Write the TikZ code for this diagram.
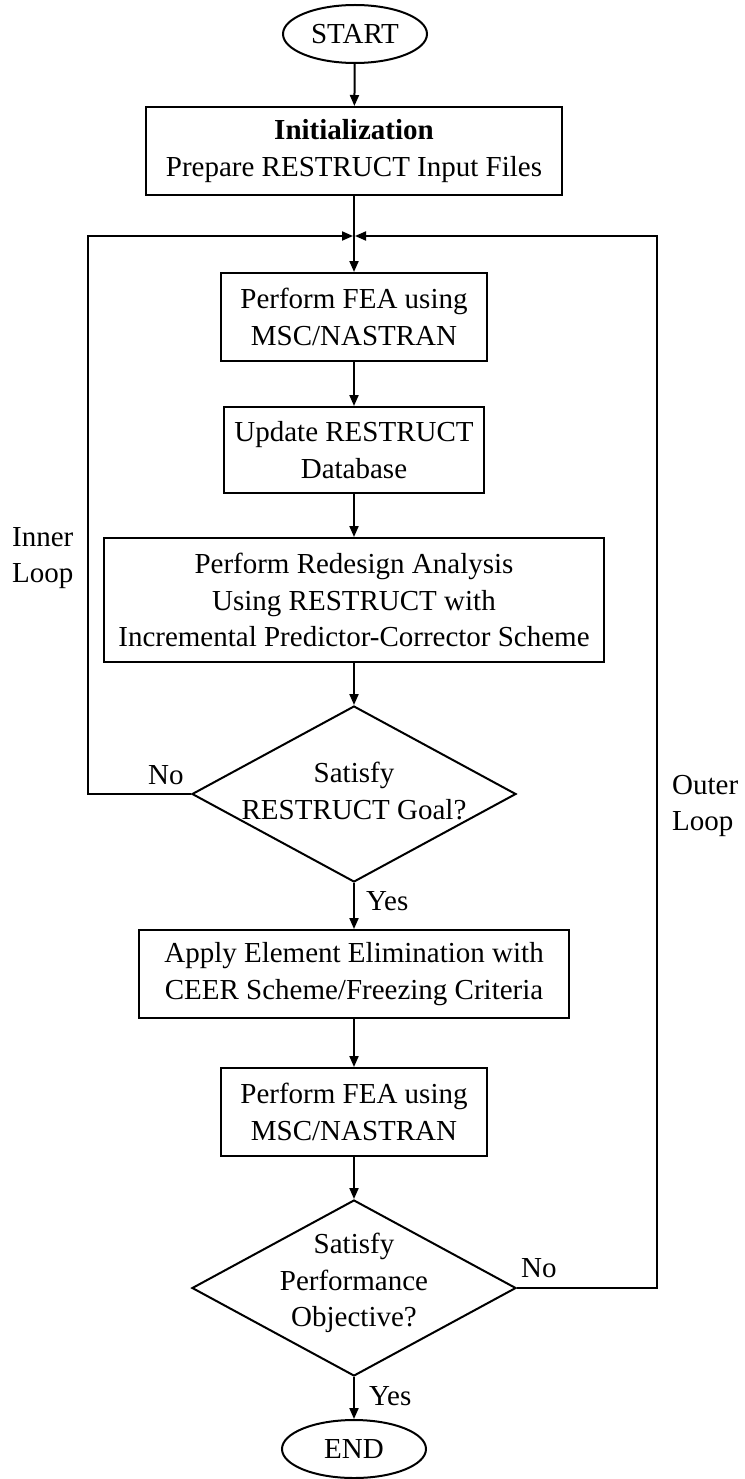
\documentclass[tikz,border=0pt]{standalone}
\usepackage{fontspec}
\setmainfont{Liberation Serif}
\usetikzlibrary{arrows.meta,shapes.geometric}

\begin{document}
\begin{tikzpicture}[x=1pt,y=-1pt,
  every node/.style={font=\fontsize{29}{36.5}\selectfont, inner sep=0pt},
  line/.style={line width=2pt},
  arr/.style={line width=2pt, -{Triangle[length=11pt,width=9pt]}},
  procbox/.style={draw, line width=2pt, rectangle, align=center, minimum height=88pt},
  terminal/.style={draw, line width=2pt, ellipse, minimum width=144pt, minimum height=58pt},
  decision/.style={draw, line width=2pt, diamond, minimum width=324pt, minimum height=176pt},
  dtext/.style={align=center},
  lbl/.style={anchor=west}
]
\useasboundingbox (0,0) rectangle (744,1479);

% terminals
\node[terminal] (start) at (355,34) {START};
\node[terminal] (finish) at (354,1449) {END};

% process steps
\node[procbox, minimum width=416pt] (init) at (354,151)
  {\textbf{Initialization}\\Prepare RESTRUCT Input Files};
\node[procbox, minimum width=266pt] (fea1) at (354,317)
  {Perform FEA using\\MSC/NASTRAN};
\node[procbox, minimum width=260pt, minimum height=86pt] (upd) at (354,450)
  {Update RESTRUCT\\Database};
\node[procbox, minimum width=500pt, minimum height=124pt] (redes) at (354,600)
  {Perform Redesign Analysis\\Using RESTRUCT with\\Incremental Predictor-Corrector Scheme};
\node[procbox, minimum width=430pt] (elim) at (354,974)
  {Apply Element Elimination with\\CEER Scheme/Freezing Criteria};
\node[procbox, minimum width=266pt] (fea2) at (354,1112)
  {Perform FEA using\\MSC/NASTRAN};

% decisions
\node[decision] (goal) at (354,794) {};
\node[dtext] (goaltxt) at (354,791) {Satisfy\\RESTRUCT Goal?};
\node[decision] (perf) at (354,1288) {};
\node[dtext] (perftxt) at (354,1283) {Satisfy\\Performance\\Objective?};

% loop junctions
\coordinate (merge) at (354,236);
\coordinate (innerL) at (88,236);
\coordinate (outerR) at (657,236);

% main flow
\draw[arr] (start) -- (init);
\draw[arr] (init) -- (fea1);
\draw[arr] (fea1) -- (upd);
\draw[arr] (upd) -- (redes);
\draw[arr] (redes) -- (goal);
\draw[arr] (goal) -- (elim);
\draw[arr] (elim) -- (fea2);
\draw[arr] (fea2) -- (perf);
\draw[arr] (perf) -- (finish);

% inner and outer loops
\draw[arr, shorten >=1pt] (goal.west) -| (innerL) -- (merge);
\draw[arr, shorten >=1pt] (perf.east) -| (outerR) -- (merge);

% branch labels
\node[lbl] (no1) at (148,775) {No};
\node[lbl] (yes1) at (366,901) {Yes};
\node[lbl] (no2) at (521,1268) {No};
\node[lbl] (yes2) at (369,1396) {Yes};

% loop names
\node[lbl, align=left] (innerlbl) at (12,558) {Inner\\Loop};
\node[lbl, align=left] (outerlbl) at (672,806) {Outer\\Loop};
\end{tikzpicture}
\end{document}
